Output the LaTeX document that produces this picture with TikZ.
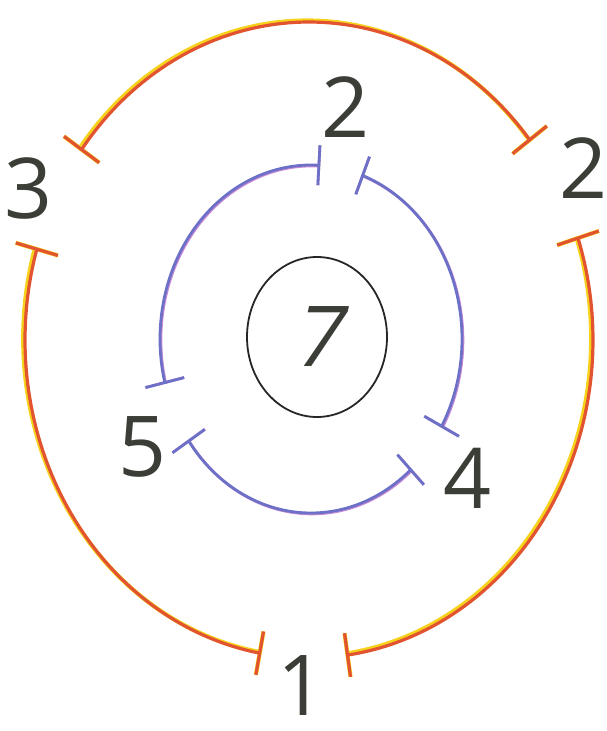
\documentclass[tikz,border=0pt]{standalone}
\usepackage{fontspec}
\setmainfont{Open Sans}
\newfontfamily\slantnum[FakeSlant=0.22]{Open Sans}
\usetikzlibrary{shapes.geometric}
\definecolor{ringred}{HTML}{E2542F}
\definecolor{ringyellow}{HTML}{F6D21C}
\definecolor{ringblue}{HTML}{6C70C6}
\definecolor{ringpink}{HTML}{C98BD6}
\definecolor{numgray}{HTML}{3A3E37}
\begin{document}
\begin{tikzpicture}[x=1pt,y=-1pt,
  outerY/.style={draw=ringyellow,line width=4.2pt},
  outerR/.style={draw=ringred,line width=3.2pt},
  innerP/.style={draw=ringpink,line width=2.8pt},
  innerB/.style={draw=ringblue,line width=2.8pt},
  num/.style={text=numgray,font=\fontsize{84}{90}\selectfont,inner sep=0pt}]
\useasboundingbox (0,0) rectangle (607,731);
% outer ring: centre (309,340), radii 284 x 318
\foreach \a/\b [count=\i] in {216.8/321,-18.7/82.2,100/196.6}{
  \coordinate (oA\i in)  at ({309+262*cos(\a)},{340+296*sin(\a)});
  \coordinate (oA\i out) at ({309+306*cos(\a)},{340+340*sin(\a)});
  \coordinate (oB\i in)  at ({309+262*cos(\b)},{340+296*sin(\b)});
  \coordinate (oB\i out) at ({309+306*cos(\b)},{340+340*sin(\b)});
  \begin{scope}[shift={(-1.8,-1.5)}]
    \draw[outerY] plot[domain=\a:\b,samples=90,variable=\t] ({309+284*cos(\t)},{340+318*sin(\t)});
    \draw[outerY] (oA\i in) -- (oA\i out);
    \draw[outerY] (oB\i in) -- (oB\i out);
  \end{scope}
  \draw[outerR] plot[domain=\a:\b,samples=90,variable=\t] ({309+284*cos(\t)},{340+318*sin(\t)});
  \draw[outerR] (oA\i in) -- (oA\i out);
  \draw[outerR] (oB\i in) -- (oB\i out);
}
% inner ring: centre (311,339), radii 151 x 174
\foreach \a/\b [count=\i] in {165.5/273,-70/30.1,48.7/144.1}{
  \coordinate (iA\i in)  at ({311+131*cos(\a)},{339+154*sin(\a)});
  \coordinate (iA\i out) at ({311+171*cos(\a)},{339+194*sin(\a)});
  \coordinate (iB\i in)  at ({311+131*cos(\b)},{339+154*sin(\b)});
  \coordinate (iB\i out) at ({311+171*cos(\b)},{339+194*sin(\b)});
  \begin{scope}[shift={(0.9,0.9)}]
    \draw[innerP] plot[domain=\a:\b,samples=80,variable=\t] ({311+151*cos(\t)},{339+174*sin(\t)});
    \draw[innerP] (iA\i in) -- (iA\i out);
    \draw[innerP] (iB\i in) -- (iB\i out);
  \end{scope}
  \draw[innerB] plot[domain=\a:\b,samples=80,variable=\t] ({311+151*cos(\t)},{339+174*sin(\t)});
  \draw[innerB] (iA\i in) -- (iA\i out);
  \draw[innerB] (iB\i in) -- (iB\i out);
}
% centre
\node[num,ellipse,draw=black!85,line width=1.8pt,minimum width=140pt,minimum height=160pt] (core) at (317,337) {\slantnum 7};
% labels
\node[num] (l3)  at (29,188)  {3};
\node[num] (l2r) at (584,168) {2};
\node[num] (l2t) at (346,107) {2};
\node[num] (l1)  at (302,686) {1};
\node[num] (l5)  at (143,447) {5};
\node[num] (l4)  at (468,478) {4};
\end{tikzpicture}
\end{document}
